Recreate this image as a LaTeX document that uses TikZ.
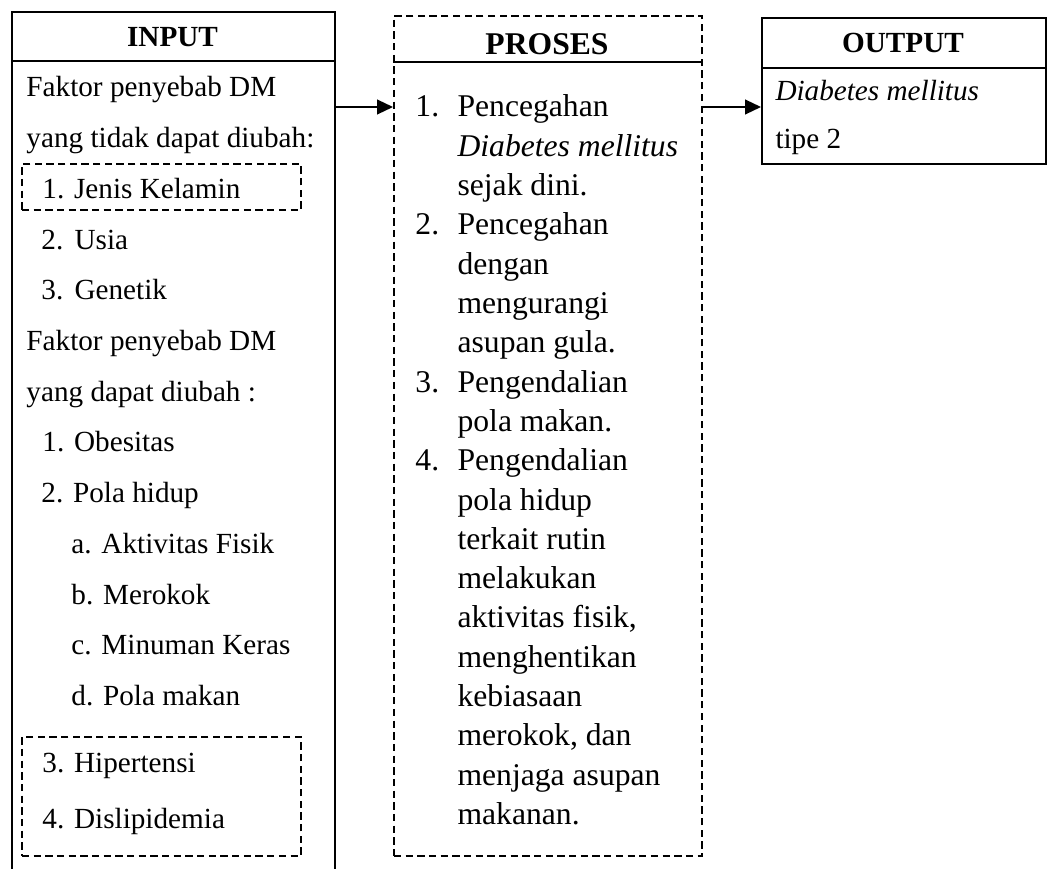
\documentclass[tikz,border=0pt]{standalone}
\usepackage{fontspec}
\setmainfont{Liberation Serif}
\usepackage{tikz}
\usetikzlibrary{arrows.meta}

\newcommand{\pxu}{0.411pt}
\tikzset{
  boxline/.style={draw, line width=0.8pt, inner sep=0pt, anchor=north west},
  dashbox/.style={boxline, line width=0.75pt, dash pattern=on 3pt off 1.8pt},
  txt/.style={anchor=base west, inner sep=0pt, font=\fontsize{12}{14}\selectfont},
  prtxt/.style={txt, font=\fontsize{13}{15}\selectfont},
  head/.style={anchor=base, inner sep=0pt, font=\bfseries\fontsize{12}{14}\selectfont},
  arr/.style={-{Triangle[length=6.5pt, width=6pt]}, line width=0.8pt},
}

\begin{document}
\begin{tikzpicture}[x=\pxu, y=-\pxu]
    \useasboundingbox (0,0) rectangle (1048,868);

    \node[boxline, minimum width=323*\pxu, minimum height=860*\pxu] (input) at (11,11) {};
    \node[dashbox, minimum width=308*\pxu, minimum height=840*\pxu] (proses) at (393,15) {};
    \node[boxline, minimum width=284*\pxu, minimum height=146*\pxu] (output) at (761,17) {};

    \node[dashbox, minimum width=279*\pxu, minimum height=46*\pxu] (jkbox) at (21,163) {};
    \node[dashbox, minimum width=279*\pxu, minimum height=119*\pxu] (hdbox) at (21,736) {};

    \draw[line width=0.8pt] (input.west |- 0,61) -- (input.east |- 0,61);
    \draw[line width=0.8pt] (proses.west |- 0,62) -- (proses.east |- 0,62);
    \draw[line width=0.8pt] (output.west |- 0,68) -- (output.east |- 0,68);

    \node[head] (inhead) at (172.5,47) {INPUT};
    \node[head, font=\bfseries\fontsize{13}{15}\selectfont] (prhead) at (547,55) {PROSES};
    \node[head] (outhead) at (903,53) {OUTPUT};

    \foreach \x/\t [count=\i from 0] in {
        26/Faktor penyebab DM,
        26/yang tidak dapat diubah:,
        42/1. Jenis Kelamin,
        41/\makebox[13.6pt][l]{2.}Usia,
        41/\makebox[13.6pt][l]{3.}Genetik,
        26/Faktor penyebab DM,
        26/yang dapat diubah :,
        42/1. Obesitas,
        41/2. Pola hidup,
        71/a. Aktivitas Fisik,
        71/b. Merokok,
        71/c. Minuman Keras,
        71/d. Pola makan}
      \node[txt] (in\i) at (\x, {97+50.7*\i}) {\t};
    \node[txt] (in13) at (42,772) {3. Hipertensi};
    \node[txt] (in14) at (42,828) {4. Dislipidemia};

    \foreach \n/\t [count=\i from 0] in {
        1./Pencegahan,
        /\textit{Diabetes mellitus},
        /sejak dini.,
        2./Pencegahan,
        /dengan,
        /mengurangi,
        /asupan gula.,
        3./Pengendalian,
        /pola makan.,
        4./Pengendalian,
        /pola hidup,
        /terkait rutin,
        /melakukan,
        {/aktivitas fisik,},
        /menghentikan,
        /kebiasaan,
        {/merokok, dan},
        /menjaga asupan,
        /makanan.}
      \node[prtxt] (pr\i) at (415, {117+39.3*\i}) {\makebox[17.3pt][l]{\n}\t};

    \node[txt] (out1) at (775,100) {\textit{Diabetes mellitus}};
    \node[txt] (out2) at (775,148) {tipe 2};

    \draw[arr] (input.east |- 0,107) -- (proses.west |- 0,107);
    \draw[arr] (proses.east |- 0,107) -- (output.west |- 0,107);
\end{tikzpicture}
\end{document}
